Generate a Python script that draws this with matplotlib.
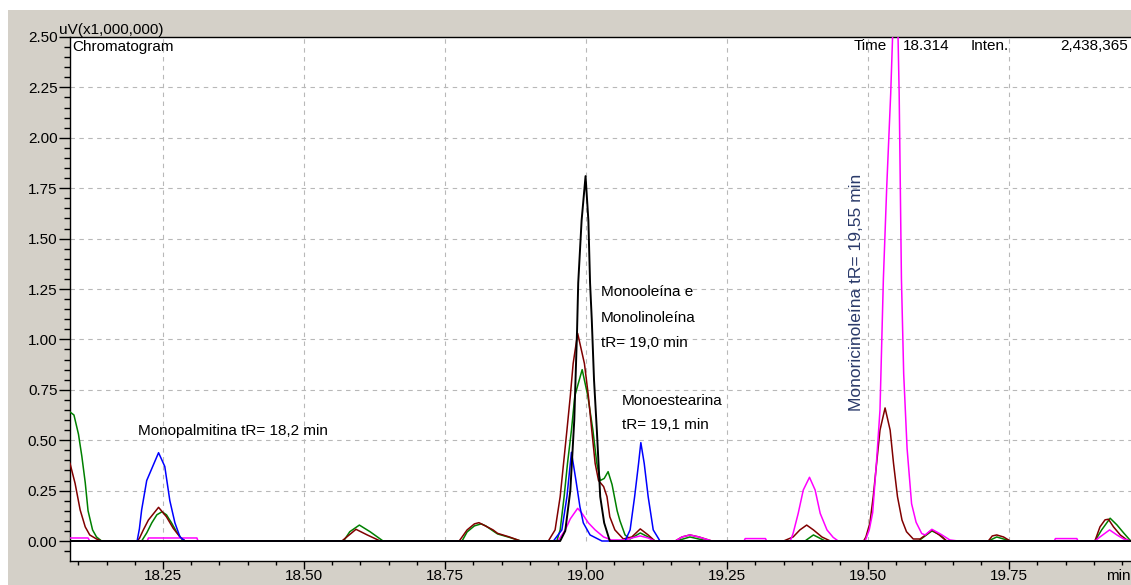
import matplotlib
matplotlib.use("Agg")
import matplotlib.pyplot as plt
from matplotlib.patches import Rectangle
from matplotlib.ticker import MultipleLocator, FormatStrFormatter

plt.rcParams["font.family"] = ["Liberation Sans", "DejaVu Sans"]

# retention time (min) / intensity (uV x 1,000,000)
black_t = [18.085, 18.954, 18.963, 18.972, 18.979, 18.984, 18.986, 18.992, 18.999, 19.004,
           19.007, 19.010, 19.014, 19.019, 19.025, 19.032, 19.042, 19.966]
black_v = [0.0, 0.0, 0.05, 0.25, 0.60, 1.05, 1.28, 1.59, 1.81, 1.59,
           1.28, 1.10, 0.80, 0.55, 0.22, 0.09, 0.0, 0.0]

blue_t = [18.085, 18.204, 18.208, 18.212, 18.221, 18.242, 18.253, 18.262, 18.271, 18.280, 18.289,
          18.942, 18.957, 18.966, 18.974, 18.982, 18.989, 18.995, 19.007, 19.028,
          19.069, 19.078, 19.086, 19.093, 19.097, 19.103, 19.110, 19.119, 19.131, 19.966]
blue_v = [0.0, 0.0, 0.06, 0.154, 0.30, 0.438, 0.37, 0.20, 0.09, 0.02, 0.0,
          0.0, 0.055, 0.22, 0.44, 0.30, 0.17, 0.09, 0.03, 0.0,
          0.0, 0.055, 0.22, 0.385, 0.488, 0.385, 0.22, 0.055, 0.0, 0.0]

green_t = [18.085, 18.092, 18.100, 18.106, 18.112, 18.117, 18.125, 18.132, 18.141,
           18.212, 18.221, 18.230, 18.239, 18.248, 18.256, 18.265, 18.274, 18.283, 18.289,
           18.570, 18.581, 18.598, 18.617, 18.640,
           18.780, 18.789, 18.802, 18.814, 18.822, 18.835, 18.843, 18.864, 18.884,
           18.948, 18.954, 18.961, 18.967, 18.974, 18.980, 18.993, 19.003, 19.012, 19.019,
           19.025, 19.032, 19.039, 19.046, 19.055, 19.060, 19.069, 19.078, 19.096, 19.110, 19.122,
           19.160, 19.184, 19.215,
           19.388, 19.403, 19.424,
           19.589, 19.601, 19.613, 19.628, 19.639,
           19.713, 19.728, 19.752,
           19.902, 19.914, 19.929, 19.941, 19.953, 19.964, 19.966]
green_v = [0.64, 0.625, 0.53, 0.42, 0.29, 0.15, 0.055, 0.02, 0.0,
           0.0, 0.04, 0.09, 0.13, 0.145, 0.13, 0.09, 0.045, 0.01, 0.0,
           0.0, 0.046, 0.079, 0.046, 0.0,
           0.0, 0.045, 0.075, 0.085, 0.075, 0.05, 0.035, 0.018, 0.0,
           0.0, 0.055, 0.22, 0.385, 0.55, 0.72, 0.85, 0.72, 0.55, 0.385,
           0.30, 0.31, 0.344, 0.28, 0.15, 0.10, 0.03, 0.01, 0.04, 0.02, 0.0,
           0.0, 0.02, 0.0,
           0.0, 0.03, 0.0,
           0.0, 0.025, 0.05, 0.03, 0.0,
           0.0, 0.02, 0.0,
           0.0, 0.055, 0.113, 0.08, 0.04, 0.005, 0.0]

brown_t = [18.085, 18.094, 18.103, 18.112, 18.120, 18.132, 18.141,
           18.204, 18.208, 18.215, 18.224, 18.242, 18.256, 18.268, 18.280, 18.289,
           18.567, 18.580, 18.592, 18.612, 18.635,
           18.775, 18.789, 18.802, 18.810, 18.822, 18.835, 18.843, 18.864, 18.884,
           18.933, 18.945, 18.954, 18.960, 18.966, 18.972, 18.977, 18.985, 18.997, 19.004,
           19.010, 19.016, 19.022, 19.031, 19.037, 19.042, 19.051, 19.066, 19.081, 19.096, 19.110, 19.122,
           19.158, 19.170, 19.184, 19.200, 19.223,
           19.350, 19.367, 19.379, 19.391, 19.403, 19.418, 19.433,
           19.492, 19.496, 19.503, 19.509, 19.515, 19.521, 19.530, 19.539, 19.545, 19.552,
           19.560, 19.568, 19.580, 19.592, 19.602, 19.613, 19.626, 19.639,
           19.713, 19.720, 19.728, 19.740, 19.752,
           19.902, 19.911, 19.920, 19.926, 19.935, 19.947, 19.959, 19.966]
brown_v = [0.385, 0.286, 0.154, 0.07, 0.03, 0.01, 0.0,
           0.0, 0.013, 0.055, 0.104, 0.167, 0.12, 0.063, 0.02, 0.0,
           0.0, 0.03, 0.058, 0.03, 0.0,
           0.0, 0.055, 0.085, 0.091, 0.074, 0.055, 0.038, 0.02, 0.0,
           0.0, 0.055, 0.22, 0.385, 0.55, 0.72, 0.88, 1.03, 0.88, 0.72,
           0.55, 0.385, 0.30, 0.27, 0.22, 0.12, 0.055, 0.01, 0.02, 0.06, 0.03, 0.0,
           0.0, 0.02, 0.03, 0.02, 0.0,
           0.0, 0.02, 0.055, 0.079, 0.055, 0.02, 0.0,
           0.0, 0.02, 0.088, 0.22, 0.385, 0.55, 0.66, 0.55, 0.385, 0.22,
           0.104, 0.046, 0.01, 0.01, 0.03, 0.055, 0.03, 0.0,
           0.0, 0.025, 0.03, 0.02, 0.0,
           0.0, 0.07, 0.105, 0.108, 0.07, 0.03, 0.005, 0.0]

magenta_t = [18.085, 18.117, 18.120, 18.222, 18.224, 18.310, 18.312,
             18.950, 18.963, 18.972, 18.985, 18.992, 19.004, 19.016, 19.031, 19.045, 19.069,
             19.081, 19.096, 19.110, 19.122,
             19.158, 19.170, 19.184, 19.200, 19.223,
             19.280, 19.282, 19.318, 19.320,
             19.362, 19.367, 19.376, 19.385, 19.396, 19.406, 19.415, 19.427, 19.438, 19.447,
             19.494, 19.496, 19.502, 19.508, 19.515, 19.521, 19.527, 19.533, 19.540, 19.548,
             19.553, 19.555, 19.557, 19.559, 19.563, 19.569, 19.577, 19.585, 19.595,
             19.601, 19.613, 19.628, 19.645, 19.660,
             19.830, 19.832, 19.870, 19.872,
             19.902, 19.911, 19.928, 19.941, 19.953, 19.966]
magenta_v = [0.015, 0.015, 0.0, 0.0, 0.015, 0.015, 0.0,
             0.0, 0.055, 0.11, 0.162, 0.14, 0.09, 0.055, 0.02, 0.005, 0.005,
             0.015, 0.025, 0.015, 0.0,
             0.0, 0.02, 0.03, 0.02, 0.0,
             0.0, 0.012, 0.012, 0.0,
             0.0, 0.038, 0.137, 0.253, 0.316, 0.253, 0.137, 0.055, 0.018, 0.0,
             0.0, 0.01, 0.056, 0.14, 0.40, 0.65, 1.30, 1.76, 2.22, 2.90,
             2.50, 2.22, 1.76, 1.30, 0.83, 0.46, 0.185, 0.093, 0.037,
             0.03, 0.058, 0.035, 0.005, 0.0,
             0.0, 0.012, 0.012, 0.0,
             0.0, 0.02, 0.055, 0.03, 0.01, 0.0]

x_major = [18.25, 18.50, 18.75, 19.00, 19.25, 19.50, 19.75]
y_major = [0.25, 0.50, 0.75, 1.00, 1.25, 1.50, 1.75, 2.00, 2.25]

W, H = 1131, 585


def px(x, y):
    # pixel position (from top-left) -> figure fraction
    return x / W, 1 - y / H


fig = plt.figure(figsize=(W / 100, H / 100), dpi=100)
fig.patch.set_facecolor("#D4D0C8")
fig.patches.append(Rectangle((0, 1 - 10 / H), 1, 10 / H, transform=fig.transFigure,
                             facecolor="white", edgecolor="none", zorder=0))
fig.patches.append(Rectangle((0, 0), 8 / W, 1, transform=fig.transFigure,
                             facecolor="white", edgecolor="none", zorder=0))

ax = fig.add_axes([70 / W, (H - 561) / H, (W - 70) / W, (561 - 37) / H])
ax.set_facecolor("white")
ax.set_xlim(18.085, 19.966)
ax.set_ylim(-0.0992, 2.5)

ax.spines["right"].set_visible(False)
for s in ["left", "top", "bottom"]:
    ax.spines[s].set_linewidth(1.0)
    ax.spines[s].set_color("black")

# dashed grid, only above the zero line
grid_style = dict(color="#B8B8B8", linestyle=(0, (4, 4)), linewidth=0.8, zorder=1)
ax.vlines(x_major, 0, 2.5, **grid_style)
ax.hlines(y_major, 18.085, 19.966, **grid_style)

ax.plot(green_t, green_v, color="#008000", lw=1.1, zorder=3)
ax.plot(brown_t, brown_v, color="#800000", lw=1.1, zorder=3)
ax.plot(magenta_t, magenta_v, color="#FF00FF", lw=1.1, zorder=3)
ax.plot(blue_t, blue_v, color="#0000FF", lw=1.1, zorder=3)
ax.plot(black_t, black_v, color="black", lw=1.4, zorder=4)

ax.xaxis.set_major_locator(MultipleLocator(0.25))
ax.xaxis.set_minor_locator(MultipleLocator(0.05))
ax.yaxis.set_major_locator(MultipleLocator(0.25))
ax.yaxis.set_minor_locator(MultipleLocator(0.05))
ax.xaxis.set_major_formatter(FormatStrFormatter("%.2f"))
ax.yaxis.set_major_formatter(FormatStrFormatter("%.2f"))
ax.tick_params(axis="y", which="major", length=8, width=1, pad=1, labelsize=11, direction="out")
ax.tick_params(axis="y", which="minor", length=4, width=1, direction="out")
ax.tick_params(axis="x", which="major", length=6, width=1, pad=0, labelsize=11, direction="out")
ax.tick_params(axis="x", which="minor", length=3, width=1, direction="out")

fs = 11
fig.text(*px(59, 37), "uV(x1,000,000)", fontsize=fs, ha="left", va="bottom")
fig.text(*px(1106, 569), "min", fontsize=fs, ha="left", va="top")
fig.text(*px(72, 47), "Chromatogram", fontsize=fs, ha="left", va="center")
fig.text(*px(854, 46), "Time", fontsize=fs, ha="left", va="center")
fig.text(*px(903, 46), "18.314", fontsize=fs, ha="left", va="center")
fig.text(*px(971, 46), "Inten.", fontsize=fs, ha="left", va="center")
fig.text(*px(1128, 46), "2,438,365", fontsize=fs, ha="right", va="center")

fig.text(*px(138, 431), "Monopalmitina tR= 18,2 min", fontsize=fs, ha="left", va="center")
fig.text(*px(601, 292), "Monooleína e", fontsize=fs, ha="left", va="center")
fig.text(*px(601, 318), "Monolinoleína", fontsize=fs, ha="left", va="center")
fig.text(*px(601, 343), "tR= 19,0 min", fontsize=fs, ha="left", va="center")
fig.text(*px(622, 401), "Monoestearina", fontsize=fs, ha="left", va="center")
fig.text(*px(622, 425), "tR= 19,1 min", fontsize=fs, ha="left", va="center")
fig.text(*px(857, 292), "Monoricinoleína tR= 19,55 min", fontsize=12.5, color="#2A3A6A",
         rotation=90, ha="center", va="center")

fig.savefig("out.png", dpi=100, facecolor=fig.get_facecolor())
